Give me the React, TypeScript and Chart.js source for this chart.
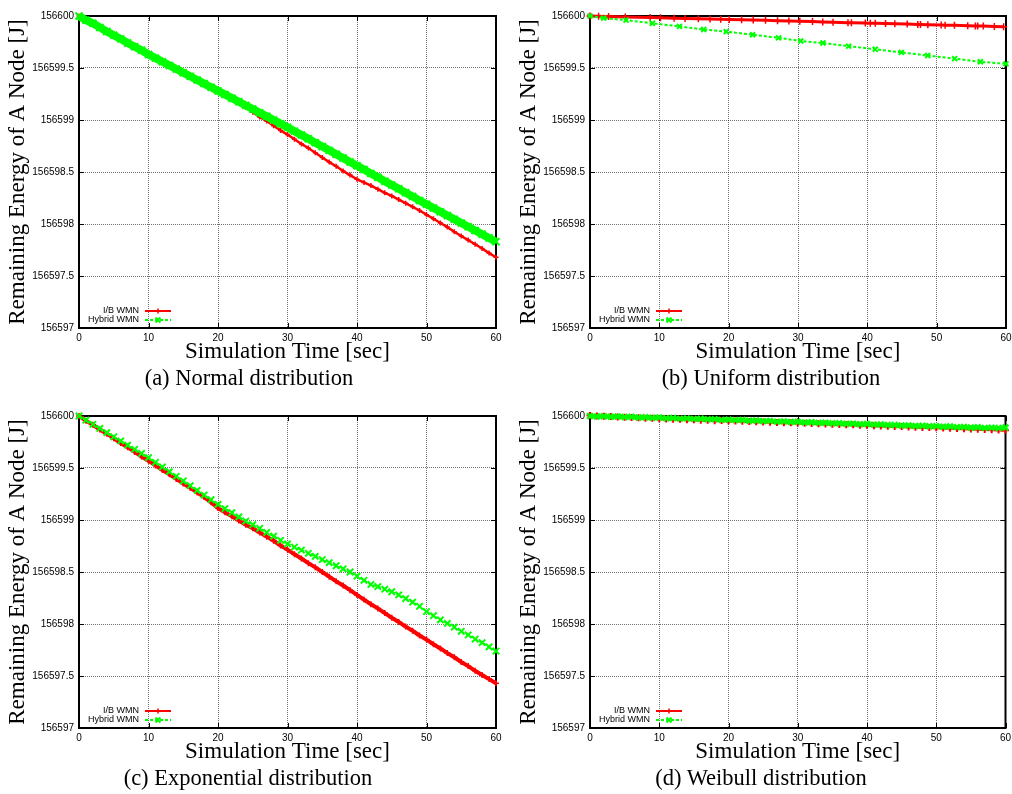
import React, { useEffect, useRef } from 'react';
import { Chart, registerables } from 'chart.js';

Chart.register(...registerables);

// ---------- axes ----------
const X_TICKS = [0, 10, 20, 30, 40, 50, 60];
const X_TICK_LABELS = ['0', '10', '20', '30', '40', '50', '60'];
const Y_TICKS = [156597, 156597.5, 156598, 156598.5, 156599, 156599.5, 156600];
const Y_TICK_LABELS = ['156597', '156597.5', '156598', '156598.5', '156599', '156599.5', '156600'];

const X_TITLE = 'Simulation Time [sec]';
const Y_TITLE = 'Remaining Energy of A Node [J]';
const SERIES_LABELS = ['I/B WMN', 'Hybrid WMN'];
const CAPTIONS = [
  '(a) Normal distribution',
  '(b) Uniform distribution',
  '(c) Exponential distribution',
  '(d) Weibull distribution',
];

// ---------- data ----------
const SECONDS = [
  0, 1, 2, 3, 4, 5, 6, 7, 8, 9, 10, 11, 12, 13, 14, 15, 16, 17, 18, 19, 20,
  21, 22, 23, 24, 25, 26, 27, 28, 29, 30, 31, 32, 33, 34, 35, 36, 37, 38, 39, 40,
  41, 42, 43, 44, 45, 46, 47, 48, 49, 50, 51, 52, 53, 54, 55, 56, 57, 58, 59, 60,
];

// (a) Normal distribution
const NORMAL_IB = [
  156600.0, 156599.965, 156599.935, 156599.9, 156599.865, 156599.83, 156599.79, 156599.755, 156599.72, 156599.68,
  156599.645, 156599.61, 156599.575, 156599.54, 156599.5, 156599.465, 156599.43, 156599.39, 156599.355, 156599.32,
  156599.285, 156599.25, 156599.21, 156599.165, 156599.12, 156599.075, 156599.03, 156598.99, 156598.945, 156598.9,
  156598.86, 156598.815, 156598.77, 156598.73, 156598.685, 156598.64, 156598.595, 156598.555, 156598.51, 156598.47,
  156598.43, 156598.4, 156598.37, 156598.335, 156598.3, 156598.27, 156598.235, 156598.2, 156598.165, 156598.13,
  156598.09, 156598.05, 156598.01, 156597.97, 156597.925, 156597.885, 156597.845, 156597.805, 156597.765, 156597.72,
  156597.68,
];
const NORMAL_HYBRID = [
  156600.0, 156599.96, 156599.93, 156599.89, 156599.85, 156599.815, 156599.78, 156599.74, 156599.705, 156599.67,
  156599.63, 156599.595, 156599.56, 156599.525, 156599.49, 156599.455, 156599.42, 156599.385, 156599.35, 156599.315,
  156599.28, 156599.245, 156599.21, 156599.175, 156599.14, 156599.105, 156599.07, 156599.035, 156599.0, 156598.965,
  156598.93, 156598.893, 156598.856, 156598.819, 156598.782, 156598.745, 156598.708, 156598.671, 156598.634, 156598.597,
  156598.56, 156598.523, 156598.486, 156598.449, 156598.412, 156598.375, 156598.338, 156598.301, 156598.264, 156598.227,
  156598.19, 156598.154, 156598.118, 156598.082, 156598.046, 156598.01, 156597.974, 156597.938, 156597.902, 156597.866,
  156597.83,
];

// (b) Uniform distribution (sparse, irregular samples)
const UNIFORM_IB_T = [
  0, 1.24, 2.68, 5.08, 8.68, 10.16, 12.13, 13.71, 15.63, 17.31, 18.85, 20.09, 21.87, 23.54, 25.32, 27.05,
  28.68, 30.26, 32.09, 33.57, 35.05, 37.21, 37.7, 39.71, 40.43, 41.15, 42.63, 43.97, 45.75, 47.28, 47.67,
  48.73, 50.65, 51.22, 52.56, 54.48, 55.58, 55.92, 56.73, 58.32, 59.66,
];
const UNIFORM_IB = [
  156600.0, 156599.998, 156599.995, 156599.99, 156599.985, 156599.982, 156599.979, 156599.977, 156599.974,
  156599.972, 156599.969, 156599.967, 156599.964, 156599.961, 156599.958, 156599.955, 156599.952, 156599.949,
  156599.946, 156599.943, 156599.94, 156599.936, 156599.935, 156599.932, 156599.931, 156599.93, 156599.927,
  156599.925, 156599.922, 156599.919, 156599.918, 156599.916, 156599.913, 156599.912, 156599.91, 156599.907,
  156599.905, 156599.904, 156599.903, 156599.9, 156599.897,
];
const UNIFORM_HYBRID_T = [0, 1.96, 5.2, 9.0, 12.9, 16.4, 19.65, 23.45, 27.2, 30.4, 33.6, 37.3, 41.15, 44.9, 48.7, 52.6, 56.3, 60];
const UNIFORM_HYBRID = [
  156600.0, 156599.98, 156599.96, 156599.93, 156599.9, 156599.87, 156599.85, 156599.82, 156599.79,
  156599.76, 156599.74, 156599.71, 156599.68, 156599.65, 156599.62, 156599.59, 156599.56, 156599.54,
];

// (c) Exponential distribution
const EXP_IB = [
  156600.0, 156599.955, 156599.915, 156599.87, 156599.83, 156599.785, 156599.74, 156599.7, 156599.655, 156599.61,
  156599.57, 156599.525, 156599.48, 156599.44, 156599.395, 156599.35, 156599.31, 156599.265, 156599.22, 156599.17,
  156599.115, 156599.075, 156599.035, 156598.995, 156598.955, 156598.92, 156598.88, 156598.84, 156598.8, 156598.755,
  156598.715, 156598.67, 156598.63, 156598.585, 156598.545, 156598.5, 156598.455, 156598.41, 156598.37, 156598.325,
  156598.28, 156598.235, 156598.19, 156598.15, 156598.105, 156598.06, 156598.02, 156597.975, 156597.935, 156597.89,
  156597.85, 156597.805, 156597.765, 156597.72, 156597.68, 156597.635, 156597.595, 156597.55, 156597.51, 156597.47,
  156597.43,
];
const EXP_HYBRID = [
  156600.0, 156599.96, 156599.92, 156599.88, 156599.84, 156599.8, 156599.76, 156599.72, 156599.68, 156599.64,
  156599.6, 156599.555, 156599.51, 156599.465, 156599.42, 156599.375, 156599.33, 156599.285, 156599.24, 156599.195,
  156599.15, 156599.11, 156599.07, 156599.03, 156598.99, 156598.955, 156598.92, 156598.88, 156598.845, 156598.805,
  156598.77, 156598.74, 156598.71, 156598.68, 156598.65, 156598.62, 156598.59, 156598.56, 156598.53, 156598.5,
  156598.46, 156598.42, 156598.38, 156598.36, 156598.335, 156598.31, 156598.28, 156598.245, 156598.21, 156598.17,
  156598.12, 156598.08, 156598.04, 156598.005, 156597.97, 156597.93, 156597.895, 156597.855, 156597.82, 156597.78,
  156597.74,
];

// (d) Weibull distribution
const WEIBULL_IB = [
  156600.004, 156600.0, 156599.997, 156599.995, 156599.99, 156599.989, 156599.985, 156599.983, 156599.979, 156599.978,
  156599.974, 156599.972, 156599.969, 156599.968, 156599.964, 156599.963, 156599.96, 156599.959, 156599.955, 156599.957,
  156599.953, 156599.951, 156599.949, 156599.947, 156599.944, 156599.943, 156599.94, 156599.938, 156599.936, 156599.935,
  156599.932, 156599.93, 156599.928, 156599.925, 156599.923, 156599.921, 156599.919, 156599.916, 156599.915, 156599.912,
  156599.91, 156599.907, 156599.905, 156599.902, 156599.9, 156599.898, 156599.895, 156599.893, 156599.89, 156599.889,
  156599.886, 156599.884, 156599.882, 156599.879, 156599.877, 156599.875, 156599.872, 156599.87, 156599.868, 156599.866,
  156599.864,
];
const WEIBULL_HYBRID = [
  156600.0, 156599.996, 156599.998, 156599.993, 156599.995, 156599.99, 156599.992, 156599.986, 156599.988, 156599.983,
  156599.985, 156599.979, 156599.981, 156599.975, 156599.977, 156599.972, 156599.973, 156599.968, 156599.97, 156599.963,
  156599.965, 156599.96, 156599.961, 156599.955, 156599.957, 156599.951, 156599.953, 156599.946, 156599.948, 156599.943,
  156599.944, 156599.938, 156599.94, 156599.934, 156599.935, 156599.93, 156599.931, 156599.925, 156599.927, 156599.921,
  156599.923, 156599.917, 156599.919, 156599.913, 156599.914, 156599.909, 156599.91, 156599.904, 156599.906, 156599.901,
  156599.903, 156599.897, 156599.899, 156599.893, 156599.895, 156599.889, 156599.891, 156599.886, 156599.888, 156599.884,
  156599.89,
];

// ---------- styling ----------
const RED = '#ff0000';
const GREEN = '#00ff00';
const SANS = '"Liberation Sans", Arial, sans-serif';
const SERIF = '"Liberation Serif", "Times New Roman", serif';

type Look = { lineWidth: number; dash: number[]; radius: number; pointWidth: number };
type PanelDef = {
  left: number;
  top: number;
  width: number;
  rightPad: number;
  caption: string;
  captionCenter: number;
  ibX: number[];
  ibY: number[];
  hyX: number[];
  hyY: number[];
  ibLook: Look;
  hyLook: Look;
};

const PANELS: PanelDef[] = [
  {
    left: 0, top: 0, width: 506, rightPad: 10, caption: CAPTIONS[0], captionCenter: 249,
    ibX: SECONDS, ibY: NORMAL_IB, hyX: SECONDS, hyY: NORMAL_HYBRID,
    ibLook: { lineWidth: 2.5, dash: [], radius: 2.5, pointWidth: 1.5 },
    hyLook: { lineWidth: 8, dash: [], radius: 5, pointWidth: 2 },
  },
  {
    left: 511, top: 0, width: 501, rightPad: 5, caption: CAPTIONS[1], captionCenter: 771,
    ibX: UNIFORM_IB_T, ibY: UNIFORM_IB, hyX: UNIFORM_HYBRID_T, hyY: UNIFORM_HYBRID,
    ibLook: { lineWidth: 3, dash: [], radius: 3.5, pointWidth: 1.5 },
    hyLook: { lineWidth: 2, dash: [3, 2], radius: 3.5, pointWidth: 2 },
  },
  {
    left: 0, top: 400, width: 506, rightPad: 10, caption: CAPTIONS[2], captionCenter: 248,
    ibX: SECONDS, ibY: EXP_IB, hyX: SECONDS, hyY: EXP_HYBRID,
    ibLook: { lineWidth: 4, dash: [], radius: 3, pointWidth: 1.5 },
    hyLook: { lineWidth: 2, dash: [3, 2], radius: 4.5, pointWidth: 2 },
  },
  {
    left: 511, top: 400, width: 501, rightPad: 5, caption: CAPTIONS[3], captionCenter: 761,
    ibX: SECONDS, ibY: WEIBULL_IB, hyX: SECONDS, hyY: WEIBULL_HYBRID,
    ibLook: { lineWidth: 3, dash: [], radius: 3.5, pointWidth: 2 },
    hyLook: { lineWidth: 3, dash: [], radius: 4, pointWidth: 2.5 },
  },
];

const CANVAS_H = 366;

function drawMarker(ctx: CanvasRenderingContext2D, rot: boolean, x: number, y: number, r: number) {
  ctx.beginPath();
  if (rot) {
    const d = r * 0.7071;
    ctx.moveTo(x - d, y - d);
    ctx.lineTo(x + d, y + d);
    ctx.moveTo(x - d, y + d);
    ctx.lineTo(x + d, y - d);
  } else {
    ctx.moveTo(x - r, y);
    ctx.lineTo(x + r, y);
    ctx.moveTo(x, y - r);
    ctx.lineTo(x, y + r);
  }
  ctx.stroke();
}

const framePlugin = {
  id: 'gpFrame',
  beforeDatasetsDraw(chart: any) {
    const { ctx, chartArea: a, scales } = chart;
    ctx.save();
    ctx.strokeStyle = '#000';
    ctx.lineWidth = 1;
    ctx.setLineDash([]);
    scales.x.ticks.forEach((t: any) => {
      const px = Math.round(scales.x.getPixelForValue(t.value)) + 0.5;
      ctx.beginPath();
      ctx.moveTo(px, a.bottom);
      ctx.lineTo(px, a.bottom - 5);
      ctx.moveTo(px, a.top);
      ctx.lineTo(px, a.top + 5);
      ctx.stroke();
    });
    scales.y.ticks.forEach((t: any) => {
      const py = Math.round(scales.y.getPixelForValue(t.value)) + 0.5;
      ctx.beginPath();
      ctx.moveTo(a.left, py);
      ctx.lineTo(a.left + 5, py);
      ctx.moveTo(a.right, py);
      ctx.lineTo(a.right - 5, py);
      ctx.stroke();
    });
    ctx.lineWidth = 2;
    ctx.strokeRect(a.left, a.top, a.right - a.left, a.bottom - a.top);
    ctx.restore();
  },
};

const legendPlugin = {
  id: 'gpLegend',
  afterDraw(chart: any) {
    const { ctx, chartArea: a } = chart;
    ctx.save();
    ctx.font = '9px ' + SANS;
    ctx.textAlign = 'right';
    ctx.textBaseline = 'middle';
    chart.data.datasets.forEach((ds: any, i: number) => {
      const y = a.bottom - 17 + i * 9;
      const isHybrid = i === 1;
      ctx.fillStyle = '#000';
      ctx.fillText(ds.label, a.left + 60, y);
      ctx.strokeStyle = ds.borderColor;
      ctx.lineWidth = 2;
      ctx.setLineDash(isHybrid ? [3, 2] : []);
      ctx.beginPath();
      ctx.moveTo(a.left + 66, y);
      ctx.lineTo(a.left + 92, y);
      ctx.stroke();
      ctx.setLineDash([]);
      ctx.lineWidth = isHybrid ? 2 : 1.5;
      drawMarker(ctx, isHybrid, a.left + 79, y, isHybrid ? 3.5 : 2.5);
    });
    ctx.restore();
  },
};

function makeDataset(label: string, xs: number[], ys: number[], color: string, look: Look, rot: boolean, order: number) {
  return {
    label,
    data: xs.map((x, i) => ({ x, y: ys[i] })),
    borderColor: color,
    backgroundColor: color,
    borderWidth: look.lineWidth,
    borderDash: look.dash,
    pointStyle: rot ? 'crossRot' : 'cross',
    pointRadius: look.radius,
    pointBorderWidth: look.pointWidth,
    pointBorderColor: color,
    pointBackgroundColor: color,
    tension: 0,
    clip: false as any,
    order,
  };
}

function Panel({ def }: { def: PanelDef }) {
  const ref = useRef<HTMLCanvasElement>(null);
  useEffect(() => {
    if (!ref.current) return;
    const chart = new Chart(ref.current, {
      type: 'line',
      data: {
        datasets: [
          makeDataset(SERIES_LABELS[0], def.ibX, def.ibY, RED, def.ibLook, false, 1),
          makeDataset(SERIES_LABELS[1], def.hyX, def.hyY, GREEN, def.hyLook, true, 0),
        ] as any,
      },
      options: {
        responsive: false,
        animation: false,
        devicePixelRatio: 1,
        layout: { padding: { top: 16, right: def.rightPad, left: 0, bottom: 0 } },
        plugins: { legend: { display: false }, tooltip: { enabled: false } },
        scales: {
          x: {
            type: 'linear',
            min: 0,
            max: 60,
            afterBuildTicks: (scale: any) => {
              scale.ticks = X_TICKS.map((v) => ({ value: v }));
            },
            afterFit: (scale: any) => {
              scale.height = 38;
              scale.paddingLeft = 0;
              scale.paddingRight = 0;
            },
            ticks: {
              autoSkip: false,
              maxRotation: 0,
              padding: 4,
              color: '#000',
              font: { family: SANS, size: 10 },
              callback: (_v: any, i: number) => X_TICK_LABELS[i],
            },
            grid: { color: 'rgba(0,0,0,0.55)', lineWidth: 1, drawTicks: false },
            border: { display: false, dash: [1, 1] },
            title: {
              display: true,
              text: X_TITLE,
              color: '#000',
              font: { family: SERIF, size: 23 },
              padding: { top: 0, bottom: 0 },
            },
          },
          y: {
            type: 'linear',
            min: 156597,
            max: 156600,
            afterBuildTicks: (scale: any) => {
              scale.ticks = Y_TICKS.map((v) => ({ value: v }));
            },
            afterFit: (scale: any) => {
              scale.width = 79;
              scale.paddingTop = 0;
              scale.paddingBottom = 0;
            },
            ticks: {
              autoSkip: false,
              padding: 5,
              color: '#000',
              font: { family: SANS, size: 10 },
              callback: (_v: any, i: number) => Y_TICK_LABELS[i],
            },
            grid: { color: 'rgba(0,0,0,0.55)', lineWidth: 1, drawTicks: false },
            border: { display: false, dash: [1, 1] },
            title: {
              display: true,
              text: Y_TITLE,
              color: '#000',
              font: { family: SERIF, size: 23 },
              padding: { top: 4, bottom: 0 },
            },
          },
        },
      } as any,
      plugins: [framePlugin, legendPlugin],
    });
    return () => chart.destroy();
  }, [def]);

  return (
    <>
      <canvas
        ref={ref}
        width={def.width}
        height={CANVAS_H}
        style={{ position: 'absolute', left: def.left, top: def.top, width: def.width, height: CANVAS_H }}
      />
      <div
        style={{
          position: 'absolute',
          left: def.captionCenter - 200,
          top: def.top + CANVAS_H,
          width: 400,
          textAlign: 'center',
          fontFamily: SERIF,
          fontSize: 22.5,
          lineHeight: '24px',
          color: '#000',
          whiteSpace: 'nowrap',
        }}
      >
        {def.caption}
      </div>
    </>
  );
}

export default function App() {
  return (
    <div
      style={{
        position: 'absolute',
        left: 0,
        top: 0,
        width: 1012,
        height: 794,
        overflow: 'hidden',
        background: '#fff',
      }}
    >
      {PANELS.map((p, i) => (
        <Panel key={i} def={p} />
      ))}
    </div>
  );
}
